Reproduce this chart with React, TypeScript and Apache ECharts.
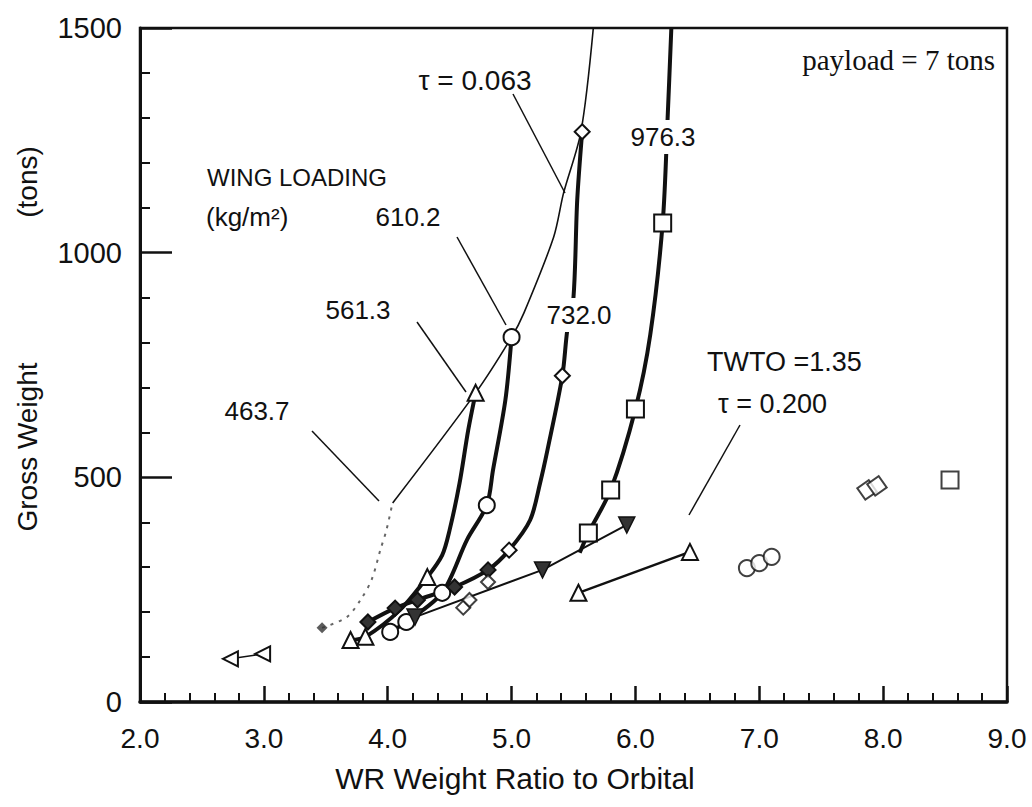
import React, { useEffect, useRef } from "react";
import * as echarts from "echarts";

// ---------- data (WR weight ratio, gross weight in tons) ----------
const xTickLabels = ["2.0", "3.0", "4.0", "5.0", "6.0", "7.0", "8.0", "9.0"];
const yTickLabels = ["0", "500", "1000", "1500"];

// thin constant-thrust line tau = 0.063
const tau063 = [
  [4.04, 443], [4.71, 688], [5.0, 812], [5.1, 866], [5.34, 1035], [5.42, 1133], [5.56, 1269], [5.66, 1500],
];
// wing loading 463.7 (dotted)
const wl463 = [
  [3.47, 165], [3.67, 189], [3.78, 227], [3.87, 272], [3.94, 338], [3.99, 383], [4.04, 445],
];
// wing loading 561.3 (triangles)
const wl561 = [
  [3.7, 138], [3.82, 145], [4.1, 205], [4.32, 278], [4.44, 327], [4.5, 383], [4.58, 487], [4.65, 605], [4.71, 688],
];
const wl561Markers = [0, 1, 3, 8];
// wing loading 610.2 (circles)
const wl610 = [
  [4.02, 156], [4.15, 178], [4.44, 243], [4.64, 361], [4.8, 438], [4.85, 516], [4.95, 672], [5.0, 812],
];
const wl610Markers = [0, 1, 2, 4, 7];
// wing loading 732.0 (diamonds)
const wl732 = [
  [3.84, 178], [4.06, 209], [4.24, 227], [4.54, 256], [4.81, 294], [4.98, 338], [5.15, 405], [5.23, 487],
  [5.29, 561], [5.41, 726], [5.45, 828], [5.5, 901], [5.53, 1117], [5.57, 1269],
];
const wl732Filled = [0, 1, 2, 3, 4];
const wl732Open = [5, 9, 13];
// wing loading 976.3 (squares)
const wl976 = [
  [5.55, 332], [5.62, 376], [5.8, 472], [6.0, 652], [6.12, 818], [6.22, 1066], [6.26, 1300], [6.29, 1500],
];
const wl976Markers = [1, 2, 3, 5];
// TWTO = 1.35 line (filled down triangles)
const twtoTri = [[4.22, 189], [5.25, 294], [5.93, 394]];
const twtoDiamonds = [[4.61, 210], [4.66, 227], [4.81, 267]];
// open triangles pair
const openTri = [[5.54, 243], [6.44, 334]];
// left pointing triangles
const leftTri = [[2.73, 96], [2.99, 107]];
// isolated points
const circlesRight = [[6.9, 298], [7.0, 309], [7.1, 323]];
const diamondsRight = [[7.87, 472], [7.95, 481]];
const squareRight = [[8.54, 494]];

const FONT = '"Liberation Sans", Arial, Helvetica, sans-serif';
const INK = "#111";
const openStyle = { color: "#fff", borderColor: INK, borderWidth: 2 };

function withMarkers(data: number[][], markers: number[], filled: number[] = []) {
  return data.map((p, i) => {
    if (filled.includes(i)) return { value: p, itemStyle: { color: "#333", borderColor: INK, borderWidth: 2 } };
    if (markers.includes(i)) return { value: p };
    return { value: p, symbol: "none" };
  });
}

function text(x: number, y: number, t: string, size = 25, align = "center", extra: any = {}) {
  return {
    type: "text",
    x,
    y,
    z: 100,
    style: {
      text: t,
      font: `${size}px ${FONT}`,
      fill: INK,
      align,
      verticalAlign: "middle",
      ...extra,
    },
  };
}
function seg(x1: number, y1: number, x2: number, y2: number) {
  return {
    type: "line",
    z: 90,
    shape: { x1, y1, x2, y2 },
    style: { stroke: INK, lineWidth: 1.5 },
  };
}

export default function App() {
  const ref = useRef<HTMLDivElement>(null);
  useEffect(() => {
    if (!ref.current) return;
    const chart = echarts.init(ref.current, undefined, { renderer: "svg" });
    const thick = { color: INK, width: 4 };
    chart.setOption({
      animation: false,
      backgroundColor: "#fff",
      grid: { left: 140, right: 25, top: 28, bottom: 105, show: true, borderColor: INK, borderWidth: 2.5 },
      xAxis: {
        type: "value",
        min: 2,
        max: 9,
        interval: 1,
        axisLine: { lineStyle: { color: INK, width: 3.5 } },
        axisTick: { inside: true, length: 16, lineStyle: { color: INK, width: 2.5 } },
        minorTick: { show: true, splitNumber: 5, length: 9, lineStyle: { color: INK, width: 2 } },
        splitLine: { show: false },
        axisLabel: {
          fontFamily: FONT,
          fontSize: 28,
          color: INK,
          margin: 22,
          formatter: (v: number) => xTickLabels[Math.round(v - 2)],
        },
      },
      yAxis: {
        type: "value",
        min: 0,
        max: 1500,
        interval: 500,
        axisLine: { show: true, lineStyle: { color: INK, width: 3 } },
        axisTick: { show: true, inside: true, length: 32, lineStyle: { color: INK, width: 2.5 } },
        minorTick: { show: true, splitNumber: 5, length: 10, lineStyle: { color: INK, width: 2 } },
        splitLine: { show: false },
        axisLabel: {
          fontFamily: FONT,
          fontSize: 29,
          color: INK,
          margin: 18,
          formatter: (v: number) => yTickLabels[Math.round(v / 500)],
        },
      },
      series: [
        {
          type: "line",
          data: tau063,
          smooth: 0.3,
          showSymbol: false,
          lineStyle: { color: INK, width: 1.6 },
          z: 2,
        },
        {
          type: "line",
          data: wl463,
          smooth: 0.3,
          showSymbol: false,
          lineStyle: { color: "#666", width: 2, type: [3, 6] },
          z: 2,
        },
        {
          type: "scatter",
          data: [wl463[0]],
          symbol: "diamond",
          symbolSize: 11,
          itemStyle: { color: "#333" },
          z: 3,
        },
        {
          type: "line",
          data: withMarkers(wl561, wl561Markers),
          smooth: 0.3,
          symbol: "triangle",
          symbolSize: 16,
          showAllSymbol: true,
          itemStyle: openStyle,
          lineStyle: thick,
          z: 4,
        },
        {
          type: "line",
          data: withMarkers(wl610, wl610Markers),
          smooth: 0.3,
          symbol: "circle",
          symbolSize: 16,
          showAllSymbol: true,
          itemStyle: openStyle,
          lineStyle: thick,
          z: 4,
        },
        {
          type: "line",
          data: withMarkers(wl732, wl732Open, wl732Filled),
          smooth: 0.3,
          symbol: "diamond",
          symbolSize: 15,
          showAllSymbol: true,
          itemStyle: openStyle,
          lineStyle: thick,
          z: 4,
        },
        {
          type: "line",
          data: withMarkers(wl976, wl976Markers),
          smooth: 0.3,
          symbol: "rect",
          symbolSize: 17,
          showAllSymbol: true,
          itemStyle: openStyle,
          lineStyle: thick,
          z: 4,
        },
        {
          type: "line",
          data: twtoTri,
          symbol: "triangle",
          symbolRotate: 180,
          symbolSize: 16,
          itemStyle: { color: "#333", borderColor: INK, borderWidth: 1.5 },
          lineStyle: { color: INK, width: 2 },
          z: 5,
        },
        {
          type: "scatter",
          data: twtoDiamonds,
          symbol: "diamond",
          symbolSize: 14,
          itemStyle: openStyle,
          z: 5,
        },
        {
          type: "line",
          data: openTri,
          symbol: "triangle",
          symbolSize: 16,
          itemStyle: openStyle,
          lineStyle: { color: INK, width: 2.5 },
          z: 5,
        },
        {
          type: "line",
          data: leftTri,
          symbol: "triangle",
          symbolRotate: 90,
          symbolSize: 15,
          itemStyle: openStyle,
          lineStyle: { color: INK, width: 1.5 },
          z: 5,
        },
        {
          type: "scatter",
          data: circlesRight,
          symbol: "circle",
          symbolSize: 16,
          itemStyle: openStyle,
          z: 5,
        },
        {
          type: "scatter",
          data: diamondsRight,
          symbol: "rect",
          symbolRotate: 35,
          symbolSize: 14,
          itemStyle: openStyle,
          z: 5,
        },
        {
          type: "scatter",
          data: squareRight,
          symbol: "rect",
          symbolSize: 17,
          itemStyle: openStyle,
          z: 5,
        },
      ],
      graphic: [
        // axis titles
        text(515, 778, "WR Weight Ratio to Orbital", 30),
        { ...text(27, 447, "Gross Weight", 28), rotation: Math.PI / 2 },
        { ...text(27, 182, "(tons)", 28), rotation: Math.PI / 2 },
        // annotations
        {
          type: "text",
          x: 995,
          y: 60,
          z: 100,
          style: {
            text: "payload = 7 tons",
            font: '29px "Liberation Serif", "Times New Roman", serif',
            fill: INK,
            align: "right",
            verticalAlign: "middle",
          },
        },
        text(475, 80, "τ = 0.063", 28),
        seg(513, 94, 565, 193),
        text(207, 177, "WING LOADING", 24, "left"),
        text(206, 217, "(kg/m²)", 26, "left"),
        text(408, 217, "610.2", 26),
        seg(457, 237, 506, 325),
        text(358, 310, "561.3", 26),
        seg(417, 322, 466, 392),
        text(257, 411, "463.7", 26),
        seg(312, 431, 379, 501),
        text(663, 137, "976.3", 26, "center", { backgroundColor: "#fff", padding: [4, 2] }),
        text(579, 315, "732.0", 26, "center", { backgroundColor: "#fff", padding: [4, 2] }),
        text(707, 362, "TWTO =1.35", 27, "left"),
        text(718, 404, "τ = 0.200", 27, "left"),
        seg(740, 425, 689, 515),
      ],
    });
    return () => chart.dispose();
  }, []);
  return (
    <div
      ref={ref}
      style={{ position: "fixed", left: 0, top: 0, width: 1032, height: 807, background: "#fff" }}
    />
  );
}
